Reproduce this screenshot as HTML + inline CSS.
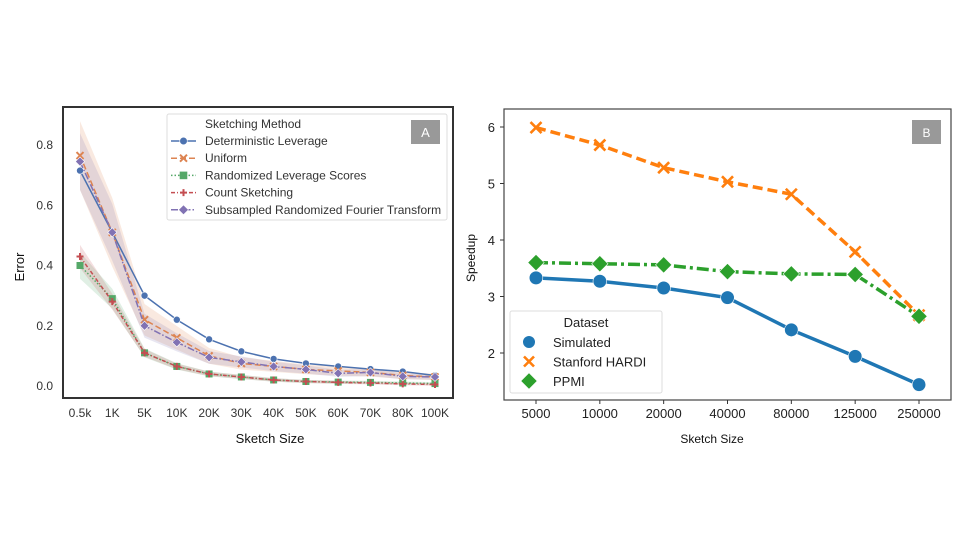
<!DOCTYPE html>
<html><head><meta charset="utf-8">
<style>
html,body{margin:0;padding:0;background:#fff;}
svg{display:block;font-family:"Liberation Sans",sans-serif;}
</style></head>
<body>
<svg id="svg" width="960" height="540" viewBox="0 0 960 540">
<g id="left"></g>
<g id="right"></g>
</svg>
<script>
// ---------- Left chart data ----------
const catsA = ["0.5k","1K","5K","10K","20K","30K","40K","50K","60K","70K","80K","100K"];
const ticksA = [0.0,0.2,0.4,0.6,0.8];
const detLev = [0.715,0.51,0.30,0.22,0.155,0.115,0.09,0.075,0.065,0.056,0.048,0.035];
const uniform = [0.765,0.51,0.22,0.16,0.10,0.075,0.065,0.055,0.05,0.045,0.035,0.03];
const randLev = [0.40,0.29,0.11,0.065,0.04,0.03,0.02,0.015,0.013,0.012,0.01,0.008];
const countSk = [0.43,0.28,0.11,0.065,0.04,0.03,0.02,0.015,0.012,0.01,0.007,0.005];
const srft = [0.745,0.51,0.20,0.145,0.095,0.08,0.065,0.055,0.042,0.045,0.032,0.03];
// ---------- Right chart data ----------
const catsB = ["5000","10000","20000","40000","80000","125000","250000"];
const ticksB = [2,3,4,5,6];
const simulated = [3.33,3.27,3.15,2.98,2.41,1.94,1.44];
const hardi = [5.99,5.68,5.28,5.03,4.81,3.79,2.67];
const ppmi = [3.60,3.58,3.56,3.44,3.40,3.39,2.65];

const NS="http://www.w3.org/2000/svg";
function mk(parent,tag,attrs,text){const e=document.createElementNS(NS,tag);for(const k in attrs)e.setAttribute(k,attrs[k]);if(text!==undefined)e.textContent=text;parent.appendChild(e);return e;}

// ---------- Left ----------
const L=document.getElementById('left');
const xA=i=>80+i*(435-80)/11;
const yA=v=>386-v*(386-145)/0.8;
let f=mk(L,'rect',{x:63,y:107,width:390,height:291,fill:'#fff',stroke:'#333','stroke-width':2});

ticksA.forEach(t=>{const e=mk(L,'text',{x:53,y:yA(t)+4,'text-anchor':'end','font-size':12,fill:'#333'},t.toFixed(1));
});
catsA.forEach((c,i)=>{const e=mk(L,'text',{x:xA(i),y:417,'text-anchor':'middle','font-size':12,fill:'#333'},c);
});
let t=mk(L,'text',{x:270,y:443,'text-anchor':'middle','font-size':13,fill:'#111'},'Sketch Size');

t=mk(L,'text',{x:0,y:0,'text-anchor':'middle','font-size':13,fill:'#111',transform:'translate(24,267) rotate(-90)'},'Error');


const seriesA=[
 {d:detLev,c:'#4c72b0',dash:'',m:'circle',band:0,name:'Deterministic Leverage'},
 {d:uniform,c:'#dd8452',dash:'6,3',m:'x',band:0.11,name:'Uniform'},
 {d:randLev,c:'#55a868',dash:'1.5,2',m:'square',band:0.05,name:'Randomized Leverage Scores'},
 {d:countSk,c:'#c44e52',dash:'4,2,1,2',m:'plus',band:0.04,name:'Count Sketching'},
 {d:srft,c:'#8172b3',dash:'7,2,1.5,2',m:'diamond',band:0.09,name:'Subsampled Randomized Fourier Transform'}];
function marker(g,type,x,y,c,s){
 let e;
 if(type==='circle')e=mk(g,'circle',{cx:x,cy:y,r:s,fill:c,stroke:'#fff','stroke-width':0.6});
 else if(type==='square')e=mk(g,'rect',{x:x-s,y:y-s,width:2*s,height:2*s,fill:c});
 else if(type==='diamond')e=mk(g,'polygon',{points:`${x},${y-s*1.3} ${x+s*1.3},${y} ${x},${y+s*1.3} ${x-s*1.3},${y}`,fill:c,stroke:'#fff','stroke-width':0.6});
 else if(type==='x')e=mk(g,'path',{d:`M${x-s},${y-s}L${x+s},${y+s}M${x+s},${y-s}L${x-s},${y+s}`,stroke:c,'stroke-width':s>4?2.6:2});
 else e=mk(g,'path',{d:`M${x-s},${y}L${x+s},${y}M${x},${y-s}L${x},${y+s}`,stroke:c,'stroke-width':2});
 return e;
}
seriesA.forEach(s=>{
 if(s.band>0){
  const top=s.d.map((v,i)=>`${xA(i)},${yA(v+s.band*Math.min(1,v/0.5)+0.004)}`);
  const bot=s.d.map((v,i)=>`${xA(i)},${yA(Math.max(0,v-s.band*Math.min(1,v/0.5)-0.004))}`).reverse();
  const b=mk(L,'polygon',{points:top.concat(bot).join(' '),fill:s.c,opacity:0.18});
  
 }
});
seriesA.forEach(s=>{
 const p=mk(L,'polyline',{points:s.d.map((v,i)=>`${xA(i)},${yA(v)}`).join(' '),fill:'none',stroke:s.c,'stroke-width':1.5,'stroke-dasharray':s.dash});
 
 s.d.forEach((v,i)=>{const m=marker(L,s.m,xA(i),yA(v),s.c,s.m==='x'||s.m==='plus'?3.5:3.5);
 });
});
// legend A
let lg=mk(L,'g',{});
mk(lg,'rect',{x:167,y:114,width:280,height:106,rx:2,fill:'#fff',stroke:'#ddd'});
mk(lg,'text',{x:205,y:128,'font-size':12,fill:'#333'},'Sketching Method');
seriesA.forEach((s,k)=>{const y=141+k*17.2;
 const g=mk(lg,'g',{});
 mk(g,'line',{x1:171,x2:196,y1:y,y2:y,stroke:s.c,'stroke-width':1.5,'stroke-dasharray':s.dash});
 marker(g,s.m,183.5,y,s.c,s.m==='x'||s.m==='plus'?3.5:3.8);
 mk(g,'text',{x:205,y:y+4,'font-size':12,fill:'#333'},s.name);});
let bx=mk(L,'g',{});
mk(bx,'rect',{x:411,y:120,width:29,height:24,fill:'#999'});
mk(bx,'text',{x:425.5,y:137,'text-anchor':'middle','font-size':13,fill:'#fff'},'A');

// ---------- Right ----------
const R=document.getElementById('right');
const xB=i=>536+i*(919-536)/6;
const yB=v=>353-(v-2)*(353-127)/4;
f=mk(R,'rect',{x:504,y:109,width:447,height:291,fill:'#fff',stroke:'#444','stroke-width':1.2});

ticksB.forEach(v=>{mk(R,'line',{x1:500,x2:504,y1:yB(v),y2:yB(v),stroke:'#333'});
 const e=mk(R,'text',{x:495,y:yB(v)+5,'text-anchor':'end','font-size':13,fill:'#222'},String(v));
 });
catsB.forEach((c,i)=>{mk(R,'line',{x1:xB(i),x2:xB(i),y1:400,y2:404,stroke:'#333'});
 const e=mk(R,'text',{x:xB(i),y:418,'text-anchor':'middle','font-size':13,fill:'#222'},c);
 });
t=mk(R,'text',{x:712,y:443,'text-anchor':'middle','font-size':12,fill:'#111'},'Sketch Size');

t=mk(R,'text',{x:0,y:0,'text-anchor':'middle','font-size':12,fill:'#111',transform:'translate(475,258) rotate(-90)'},'Speedup');

const seriesB=[
 {d:hardi,c:'#ff7f0e',dash:'10,5',m:'x',name:'Stanford HARDI'},
 {d:ppmi,c:'#2ca02c',dash:'12,4,3,4',m:'diamond',name:'PPMI'},
 {d:simulated,c:'#1f77b4',dash:'',m:'circle',name:'Simulated'}];
seriesB.forEach(s=>{
 const p=mk(R,'polyline',{points:s.d.map((v,i)=>`${xB(i)},${yB(v)}`).join(' '),fill:'none',stroke:s.c,'stroke-width':3.5,'stroke-dasharray':s.dash});
 
 s.d.forEach((v,i)=>{const m=marker(R,s.m,xB(i),yB(v),s.c,s.m==='x'?5.5:(s.m==='diamond'?6.3:6.8));
 });
});
lg=mk(R,'g',{});
mk(lg,'rect',{x:510,y:311,width:152,height:82,rx:2,fill:'#fff',stroke:'#ddd'});
mk(lg,'text',{x:586,y:327,'text-anchor':'middle','font-size':13,fill:'#222'},'Dataset');
[seriesB[2],seriesB[0],seriesB[1]].forEach((s,k)=>{const y=342+k*19.5;
 const g=mk(lg,'g',{});
 marker(g,s.m,529,y,s.c,s.m==='x'?5:6.3);
 mk(g,'text',{x:553,y:y+5,'font-size':13,fill:'#222'},s.name);});
bx=mk(R,'g',{});
mk(bx,'rect',{x:912,y:120,width:29,height:24,fill:'#999'});
mk(bx,'text',{x:926.5,y:137,'text-anchor':'middle','font-size':12,fill:'#fff'},'B');
</script>
</body></html>
